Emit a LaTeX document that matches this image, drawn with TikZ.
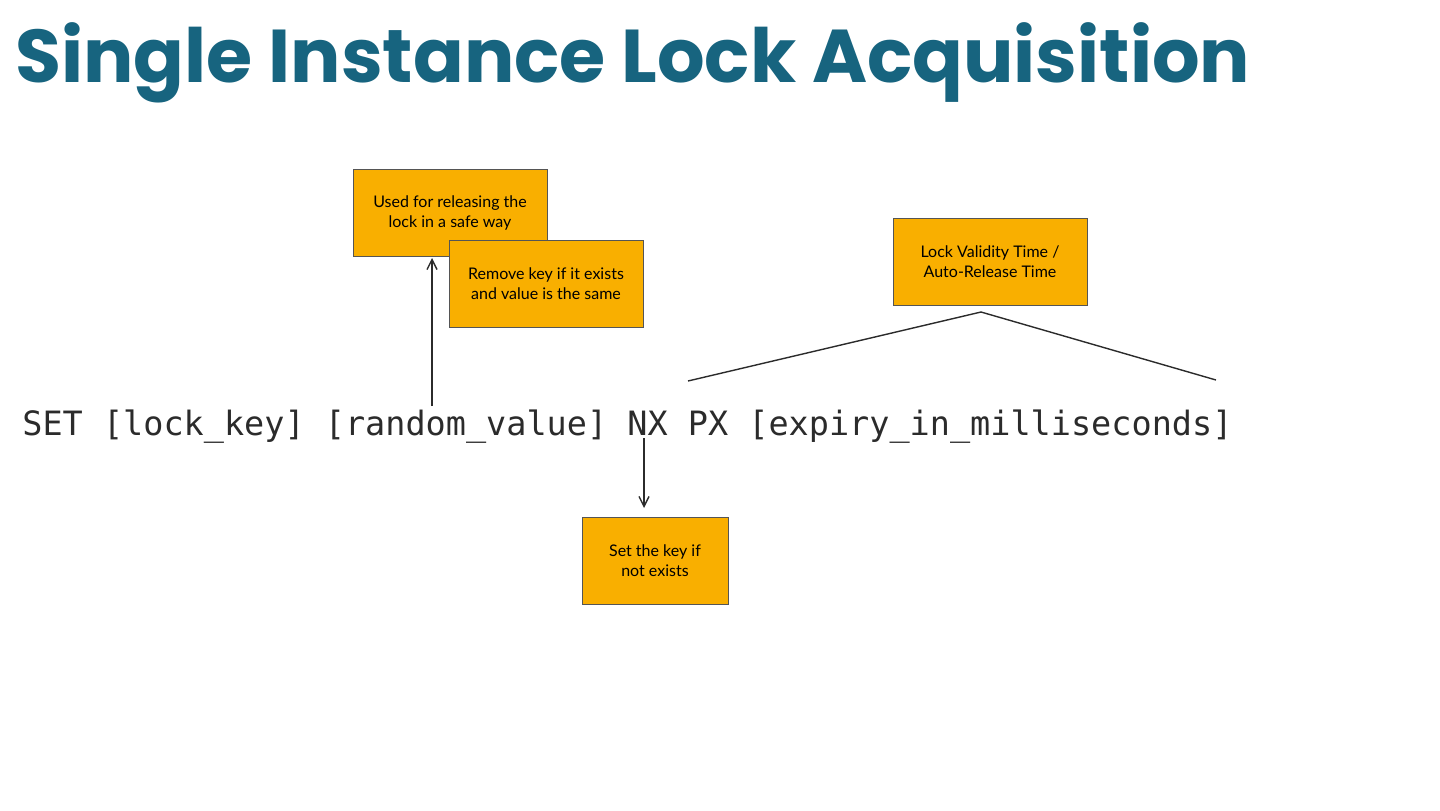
\documentclass[tikz,border=0pt]{standalone}
\usepackage{fontspec}
\setmainfont{Lato}
\newfontfamily\titlefont{Poppins}
\newfontfamily\codefont{DejaVu Sans Mono}
\usetikzlibrary{arrows.meta}
\definecolor{titleteal}{HTML}{17647F}
\definecolor{notefill}{HTML}{F9AF00}
\definecolor{inkgray}{HTML}{2B2B2B}
\tikzset{
  note/.style={draw=inkgray!80, line width=0.5pt, fill=notefill, minimum width=97pt, minimum height=43.5pt, inner sep=0pt, align=center, font=\fontsize{8}{10}\selectfont, text=black},
  smallnote/.style={note, minimum width=73pt},
  link/.style={draw=inkgray, line width=0.7pt},
  tip/.style={-{Straight Barb[length=5pt,width=5pt]}}
}
\begin{document}
\begin{tikzpicture}[x=0.5pt,y=-0.5pt]
\useasboundingbox (0,0) rectangle (1440,810);
\node[anchor=base west, inner sep=0pt, text=titleteal, font=\titlefont\bfseries\fontsize{37.4}{44}\selectfont] (title) at (15,82) {Single Instance Lock Acquisition};
\node[anchor=base west, inner sep=0pt, font=\codefont\fontsize{16.75}{20}\selectfont, text=inkgray] (cmd) at (22,435) {SET [lock\_key] [random\_value] NX PX [expiry\_in\_milliseconds]};
\node[note] (used) at (450,212.5) {Used for releasing the\\lock in a safe way};
\node[note] (remove) at (546,283.5) {Remove key if it exists\\and value is the same};
\node[note] (valid) at (990,261.5) {Lock Validity Time /\\Auto-Release Time};
\node[smallnote] (setkey) at (655,561) {Set the key if\\not exists};
\coordinate (rvtop) at (432,406);
\coordinate (usedbot) at (432,258);
\coordinate (nxbot) at (644,438);
\coordinate (setkeytop) at (644,508);
\coordinate (bl) at (688,381);
\coordinate (bm) at (981,312);
\coordinate (br) at (1216,380);
\draw[link,tip] (rvtop) -- (usedbot);
\draw[link,tip] (nxbot) -- (setkeytop);
\draw[link] (bl) -- (bm) -- (br);
\end{tikzpicture}
\end{document}
